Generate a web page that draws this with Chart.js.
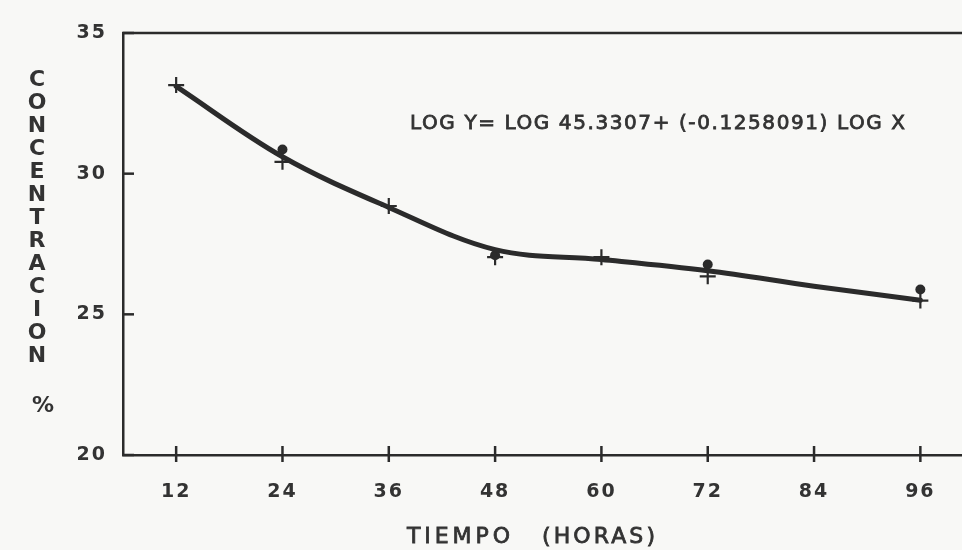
<!DOCTYPE html>
<html>
<head>
<meta charset="utf-8">
<script src="https://cdn.jsdelivr.net/npm/chart.js@4/dist/chart.umd.min.js"></script>
<style>
  body { margin: 0; background: #f8f8f6; }
  canvas { display: block; }
</style>
</head>
<body>
<canvas id="grafica" width="962" height="550"></canvas>
<script>
// datos
const horas = [12, 24, 36, 48, 60, 72, 96];
const cruces = [33.15, 30.42, 28.85, 27.03, 27.03, 26.35, 25.49];
const horasPuntos = [24, 48, 72, 96];
const puntos = [30.86, 27.1, 26.77, 25.88];
const horasCurva = [12, 24, 36, 48, 60, 72, 84, 96];
const curva = [33.1, 30.6, 28.8, 27.3, 26.95, 26.55, 26.0, 25.5];
const ticksX = [12, 24, 36, 48, 60, 72, 84, 96];
const ticksY = [20, 25, 30, 35];

const tinta = '#2b2b2b';
const letra = '#333333';

function aPuntos(xs, ys) {
  return xs.map((x, i) => ({ x: x, y: ys[i] }));
}

// texto con espaciado para llegar a un ancho dado
function textoAncho(ctx, txt, x, y, ancho) {
  ctx.letterSpacing = '0px';
  let w = ctx.measureText(txt).width;
  let esp = (ancho - w) / (txt.length - 1);
  ctx.letterSpacing = esp + 'px';
  ctx.textAlign = 'left';
  ctx.fillText(txt, x, y);
  ctx.lineWidth = 0.8;
  ctx.strokeStyle = letra;
  ctx.strokeText(txt, x, y);
  ctx.letterSpacing = '0px';
}

const extras = {
  id: 'extras',
  beforeDraw(chart) {
    const ctx = chart.ctx;
    ctx.save();
    ctx.fillStyle = '#f8f8f6';
    ctx.fillRect(0, 0, chart.width, chart.height);
    ctx.restore();
    ctx.letterSpacing = '2px';
  },
  afterDraw(chart) {
    const ctx = chart.ctx;
    const a = chart.chartArea;
    const sx = chart.scales.x;
    const sy = chart.scales.y;
    ctx.save();
    ctx.letterSpacing = '0px';
    ctx.strokeStyle = tinta;
    ctx.lineWidth = 2.5;
    // linea superior
    ctx.beginPath();
    ctx.moveTo(a.left - 1, a.top);
    ctx.lineTo(chart.width, a.top);
    ctx.stroke();
    // marcas eje x
    ticksX.forEach(v => {
      const px = sx.getPixelForValue(v);
      ctx.beginPath();
      ctx.moveTo(px, a.bottom - 9);
      ctx.lineTo(px, a.bottom + 7);
      ctx.stroke();
    });
    // marcas eje y
    ticksY.forEach(v => {
      const py = sy.getPixelForValue(v);
      ctx.beginPath();
      ctx.moveTo(a.left, py);
      ctx.lineTo(a.left + 11, py);
      ctx.stroke();
    });

    ctx.fillStyle = letra;
    ctx.textBaseline = 'middle';
    // titulo vertical
    ctx.font = 'bold 22px "DejaVu Sans"';
    ctx.textAlign = 'center';
    const letras = 'CONCENTRACION'.split('');
    letras.forEach((c, i) => {
      ctx.fillText(c, 37, 80 + i * 23);
    });
    ctx.fillText('%', 43, 406);

    // titulo eje x
    ctx.font = '22px "DejaVu Sans"';
    textoAncho(ctx, 'TIEMPO', 407, 537, 103);
    textoAncho(ctx, '(HORAS)', 542, 537, 113);

    // ecuacion
    ctx.font = '20px "DejaVu Sans"';
    textoAncho(ctx, 'LOG Y= LOG 45.3307+ (-0.1258091) LOG X', 410, 124, 495);
    ctx.restore();
  }
};

new Chart(document.getElementById('grafica'), {
  type: 'scatter',
  data: {
    datasets: [
      {
        label: 'curva',
        data: aPuntos(horasCurva, curva),
        showLine: true,
        borderColor: tinta,
        borderWidth: 5,
        pointRadius: 0,
        tension: 0.35,
        borderCapStyle: 'round'
      },
      {
        label: 'cruces',
        data: aPuntos(horas, cruces),
        pointStyle: 'cross',
        pointRadius: 8,
        borderColor: tinta,
        borderWidth: 2.2,
        backgroundColor: tinta
      },
      {
        label: 'puntos',
        data: aPuntos(horasPuntos, puntos),
        pointStyle: 'circle',
        pointRadius: 5,
        borderWidth: 0,
        backgroundColor: tinta
      }
    ]
  },
  options: {
    responsive: false,
    animation: false,
    layout: { autoPadding: false, padding: { top: 33, right: 0, left: 0, bottom: 0 } },
    plugins: {
      legend: { display: false },
      tooltip: { enabled: false }
    },
    scales: {
      x: {
        type: 'linear',
        min: 6,
        max: 100.7,
        afterBuildTicks: s => { s.ticks = ticksX.map(v => ({ value: v })); },
        afterFit: s => { s.height = 95; s.paddingLeft = 0; s.paddingRight = 0; },
        grid: { display: false },
        border: { display: true, color: tinta, width: 2.5 },
        ticks: {
          color: letra,
          font: { family: 'DejaVu Sans', size: 19, weight: 'bold' },
          padding: 18,
          maxRotation: 0
        }
      },
      y: {
        min: 20,
        max: 35,
        afterBuildTicks: s => { s.ticks = ticksY.map(v => ({ value: v })); },
        afterFit: s => { s.width = 123; s.paddingTop = 0; s.paddingBottom = 0; },
        grid: { display: false },
        border: { display: true, color: tinta, width: 2.5 },
        ticks: {
          color: letra,
          font: { family: 'DejaVu Sans', size: 19, weight: 'bold' },
          padding: 8
        }
      }
    }
  },
  plugins: [extras]
});
</script>
</body>
</html>
